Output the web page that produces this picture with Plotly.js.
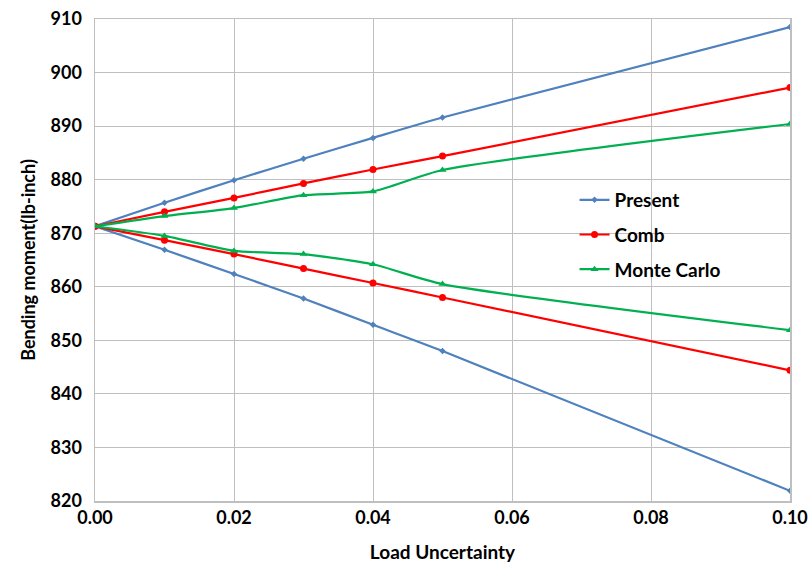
<!DOCTYPE html>
<html>
<head>
<meta charset="utf-8">
<script src="https://cdn.plot.ly/plotly-3.0.1.min.js"></script>
<style>html,body{margin:0;padding:0;background:#fff;}#chart{width:809px;height:571px;}</style>
</head>
<body>
<div id="chart"></div>
<script>
const loadUncertainty = [0, 0.01, 0.02, 0.03, 0.04, 0.05, 0.10];
const presentUpper = [871.3, 875.7, 879.9, 883.9, 887.8, 891.6, 908.5];
const presentLower = [871.3, 866.9, 862.4, 857.8, 852.9, 848.0, 821.9];
const combUpper = [871.3, 874.0, 876.6, 879.3, 881.9, 884.4, 897.2];
const combLower = [871.3, 868.7, 866.1, 863.4, 860.7, 858.0, 844.4];
const mcUpper = [871.3, 873.2, 874.7, 877.1, 877.8, 881.8, 890.4];
const mcLower = [871.3, 869.5, 866.7, 866.1, 864.2, 860.5, 851.9];
const seriesNames = ['Present', 'Comb', 'Monte Carlo'];

const colors = ['#4F81BD', '#FF0000', '#00B050'];
const symbols = ['diamond', 'circle', 'triangle-up'];
const sizes = [5, 7, 7];
const pairs = [[presentUpper, presentLower], [combUpper, combLower], [mcUpper, mcLower]];

const traces = [];
pairs.forEach((p, i) => {
  p.forEach((ys, j) => {
    traces.push({
      x: loadUncertainty, y: ys, type: 'scatter', mode: 'lines+markers',
      name: seriesNames[i], legendgroup: seriesNames[i], showlegend: j === 0,
      line: {color: colors[i], width: 2.2, shape: 'spline', smoothing: 0.6},
      marker: {color: colors[i], symbol: symbols[i], size: sizes[i]}
    });
  });
});

const fontFam = 'Lato, "Open Sans", sans-serif';
const layout = {
  width: 809, height: 571,
  margin: {l: 95, r: 19, t: 19, b: 70},
  paper_bgcolor: '#fff', plot_bgcolor: '#fff',
  showlegend: true,
  legend: {x: 0.69, y: 0.664, xanchor: 'left', yanchor: 'top', bgcolor: 'rgba(0,0,0,0)',
    font: {family: fontFam, size: 19, color: '#000', weight: 'bold'}, tracegroupgap: 7, itemwidth: 30},
  xaxis: {
    range: [0, 0.10], tickvals: [0, 0.02, 0.04, 0.06, 0.08, 0.10], ticktext: ['0.00','0.02','0.04','0.06','0.08','0.10'],
    showgrid: true, gridcolor: '#BFBFBF', gridwidth: 1, zeroline: false,
    showline: true, linecolor: '#BFBFBF', linewidth: 1.5, mirror: true,
    ticks: '', tickfont: {family: fontFam, size: 18, color: '#000', weight: 'bold'},
    title: {text: 'Load Uncertainty', font: {family: fontFam, size: 19, color: '#000', weight: 'bold'}, standoff: 18}
  },
  yaxis: {
    range: [820, 910], dtick: 10,
    showgrid: true, gridcolor: '#BFBFBF', gridwidth: 1, zeroline: false,
    showline: true, linecolor: '#BFBFBF', linewidth: 1.5, mirror: true,
    ticks: '', ticklabelstandoff: 8, tickfont: {family: fontFam, size: 18, color: '#000', weight: 'bold'},
    title: {text: 'Bending moment(lb-inch)', font: {family: fontFam, size: 18, color: '#000', weight: 'bold'}, standoff: 10}
  }
};
Plotly.newPlot('chart', traces, layout, {displayModeBar: false, staticPlot: true});
</script>
</body>
</html>
